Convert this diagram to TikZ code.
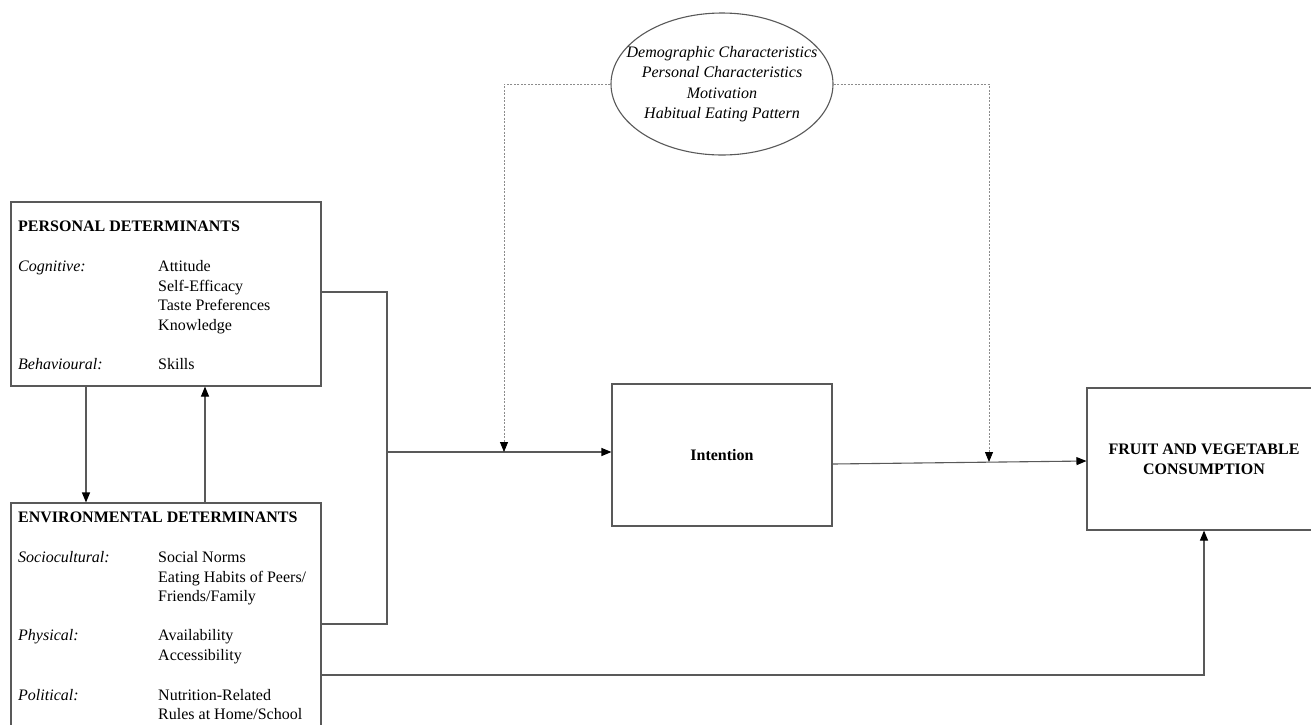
\documentclass[tikz,border=0pt]{standalone}
\usepackage{fontspec}
\setmainfont{Liberation Serif}
\usetikzlibrary{arrows.meta,shapes.geometric}
\newcommand{\fsz}{\fontsize{16}{19.7}\selectfont}
\newcommand{\fse}{\fontsize{16}{20.5}\selectfont}
\tikzset{
  line/.style={draw=black!65, line width=1.1pt},
  tip/.style={-{Triangle[length=10pt,width=8pt,color=black]}},
  arr/.style={line, tip},
  dotline/.style={draw=black!45, line width=0.8pt, dash pattern=on 2pt off 1.5pt},
  dotarr/.style={dotline, tip},
  boxnode/.style={line, rectangle, inner sep=0pt, fill=white},
  ttl/.style={anchor=base west, inner sep=0pt, font={\fsz\bfseries}},
  lbl/.style={anchor=base west, inner sep=0pt, font={\fsz\itshape}},
  val/.style={anchor=base west, inner sep=0pt, font=\fsz},
}
\begin{document}
\begin{tikzpicture}[x=1pt,y=-1pt]
\useasboundingbox[fill=white] (0,0) rectangle (1311,724);

% boxes
\node[boxnode, minimum width=310pt, minimum height=184pt] (pd) at (166,294) {};
\node[boxnode, minimum width=310pt, minimum height=242pt] (ed) at (166,624) {};
\node[boxnode, minimum width=220pt, minimum height=142pt, font={\fsz\bfseries}] (int) at (722,455) {Intention};
\node[boxnode, minimum width=234pt, minimum height=142pt, font={\fsz\bfseries}, align=center] (fv) at (1204,459) {FRUIT AND VEGETABLE\\CONSUMPTION};
\node[line, ellipse, inner sep=0pt, minimum width=222pt, minimum height=142pt] (el) at (722,84) {};
\node[inner sep=0pt, font={\fse\itshape}, align=center] (eltext) at (el.center) {Demographic Characteristics\\Personal Characteristics\\Motivation\\Habitual Eating Pattern};

% personal determinants text
\node[ttl] (pdt) at (18,231) {PERSONAL DETERMINANTS};
\node[lbl] (cog) at (18,271) {Cognitive:};
\node[val] (att) at (158,271) {Attitude};
\node[val] (se) at (158,291) {Self-Efficacy};
\node[val] (tp) at (158,310) {Taste Preferences};
\node[val] (kn) at (158,330) {Knowledge};
\node[lbl] (beh) at (18,369) {Behavioural:};
\node[val] (sk) at (158,369) {Skills};

% environmental determinants text
\node[ttl] (edt) at (18,522) {ENVIRONMENTAL DETERMINANTS};
\node[lbl] (soc) at (18,562) {Sociocultural:};
\node[val] (sn) at (158,562) {Social Norms};
\node[val] (eh) at (158,582) {Eating Habits of Peers/};
\node[val] (ff) at (158,601) {Friends/Family};
\node[lbl] (phy) at (18,640) {Physical:};
\node[val] (av) at (158,640) {Availability};
\node[val] (ac) at (158,660) {Accessibility};
\node[lbl] (pol) at (18,700) {Political:};
\node[val] (nr) at (158,700) {Nutrition-Related};
\node[val] (rh) at (158,719) {Rules at Home/School};

% junction coordinates
\coordinate (j1) at (387,292);
\coordinate (j2) at (387,624);
\coordinate (j3) at (387,452);
\coordinate (d1) at (504,452);
\coordinate (d2) at (989,462);
\coordinate (b1) at (321,675);

% connectors
\draw[arr] ([xshift=-80pt]pd.south) -- ([xshift=-80pt]ed.north);
\draw[arr] ([xshift=39pt]ed.north) -- ([xshift=39pt]pd.south);
\draw[line] (pd.east |- j1) -- (j1) -- (j2) -- (ed.east |- j2);
\draw[arr] (j3) -- (int.west |- j3);
\draw[arr] ([yshift=-9pt]int.east) -- ([yshift=-2pt]fv.west);
\draw[arr] (b1) -| (fv.south);

% dotted moderators
\draw[dotarr] (el.west) -| (d1);
\draw[dotarr] (el.east) -| (d2);
\end{tikzpicture}
\end{document}
